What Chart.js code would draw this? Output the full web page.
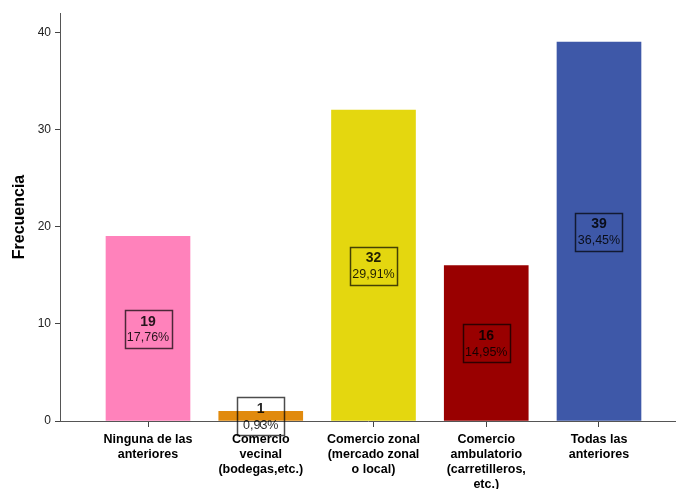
<!DOCTYPE html>
<html>
<head>
<meta charset="utf-8">
<script src="https://cdn.jsdelivr.net/npm/chart.js@4"></script>
<style>
  html, body { margin: 0; padding: 0; background: #fff; }
  #wrap { width: 676px; height: 489px; }
</style>
</head>
<body>
<div id="wrap"><canvas id="chart" width="676" height="489"></canvas></div>
<script>
// categories, counts and percentage labels
const categories = [
    ['Ninguna de las', 'anteriores'],
    ['Comercio', 'vecinal', '(bodegas,etc.)'],
    ['Comercio zonal', '(mercado zonal', 'o local)'],
    ['Comercio', 'ambulatorio', '(carretilleros,', 'etc.)'],
    ['Todas las', 'anteriores']
];
const counts = [19, 1, 32, 16, 39];
const percents = ['17,76%', '0,93%', '29,91%', '14,95%', '36,45%'];
const barColors = ['#FF82BB', '#E18A0D', '#E4D70F', '#990000', '#3E58A8'];
const yTicks = [0, 10, 20, 30, 40];

// boxed count + percentage at the middle of each bar
const boxLabels = {
    id: 'boxLabels',
    afterDatasetsDraw(chart) {
        const { ctx, scales: { x, y } } = chart;
        ctx.save();
        counts.forEach((v, i) => {
            const cx = x.getPixelForValue(i);
            const cy = y.getPixelForValue(v / 2);
            const w = 47, h = 38;
            ctx.strokeStyle = 'rgba(0,0,0,0.7)';
            ctx.lineWidth = 1.5;
            ctx.strokeRect(Math.round(cx - w / 2) + 0.5, Math.round(cy - h / 2) + 0.5, w, h);
            ctx.fillStyle = 'rgba(0,0,0,0.85)';
            ctx.textAlign = 'center';
            ctx.textBaseline = 'middle';
            ctx.font = 'bold 14px "Liberation Sans", Arial, sans-serif';
            ctx.fillText(String(v), cx, cy - 7);
            ctx.font = '12.5px "Liberation Sans", Arial, sans-serif';
            ctx.fillText(percents[i], cx, cy + 9);
        });
        ctx.restore();
    }
};

new Chart(document.getElementById('chart'), {
    type: 'bar',
    data: {
        datasets: [{
            data: counts.map((v, i) => ({ x: i, y: v })),
            backgroundColor: barColors,
            borderWidth: 0,
            barThickness: 84
        }]
    },
    options: {
        responsive: false, animation: false,
        layout: { padding: { top: 13, left: 0, right: 0, bottom: 0 } },
        plugins: { legend: { display: false }, tooltip: { enabled: false } },
        scales: {
            x: {
                type: 'linear',
                offset: false,
                min: -0.7805, max: 4.683,
                afterBuildTicks: s => { s.ticks = categories.map((c, i) => ({ value: i })); },
                afterFit: s => { s.height = 68; },
                grid: { offset: false, drawOnChartArea: false, drawTicks: true, tickLength: 6, color: '#444' },
                border: { display: true, color: '#555', width: 1 },
                ticks: {
                    callback: v => categories[v],
                    autoSkip: false, maxRotation: 0, padding: 5,
                    color: '#000',
                    font: { family: '"Liberation Sans", Arial, sans-serif', size: 12.5, weight: 'bold', lineHeight: 1.2 }
                }
            },
            y: {
                min: 0, max: 42,
                afterBuildTicks: s => { s.ticks = yTicks.map(v => ({ value: v })); },
                afterFit: s => { s.width = 60; },
                grid: { drawOnChartArea: false, drawTicks: true, tickLength: 5, color: '#444' },
                border: { display: true, color: '#555', width: 1 },
                ticks: {
                    padding: 4, color: '#222',
                    font: { family: '"Liberation Sans", Arial, sans-serif', size: 12 }
                },
                title: {
                    display: true, text: 'Frecuencia', color: '#000',
                    padding: { top: 10, bottom: 0 },
                    font: { family: '"Liberation Sans", Arial, sans-serif', size: 16, weight: 'bold' }
                }
            }
        }
    },
    plugins: [boxLabels]
});
</script>
</body>
</html>
